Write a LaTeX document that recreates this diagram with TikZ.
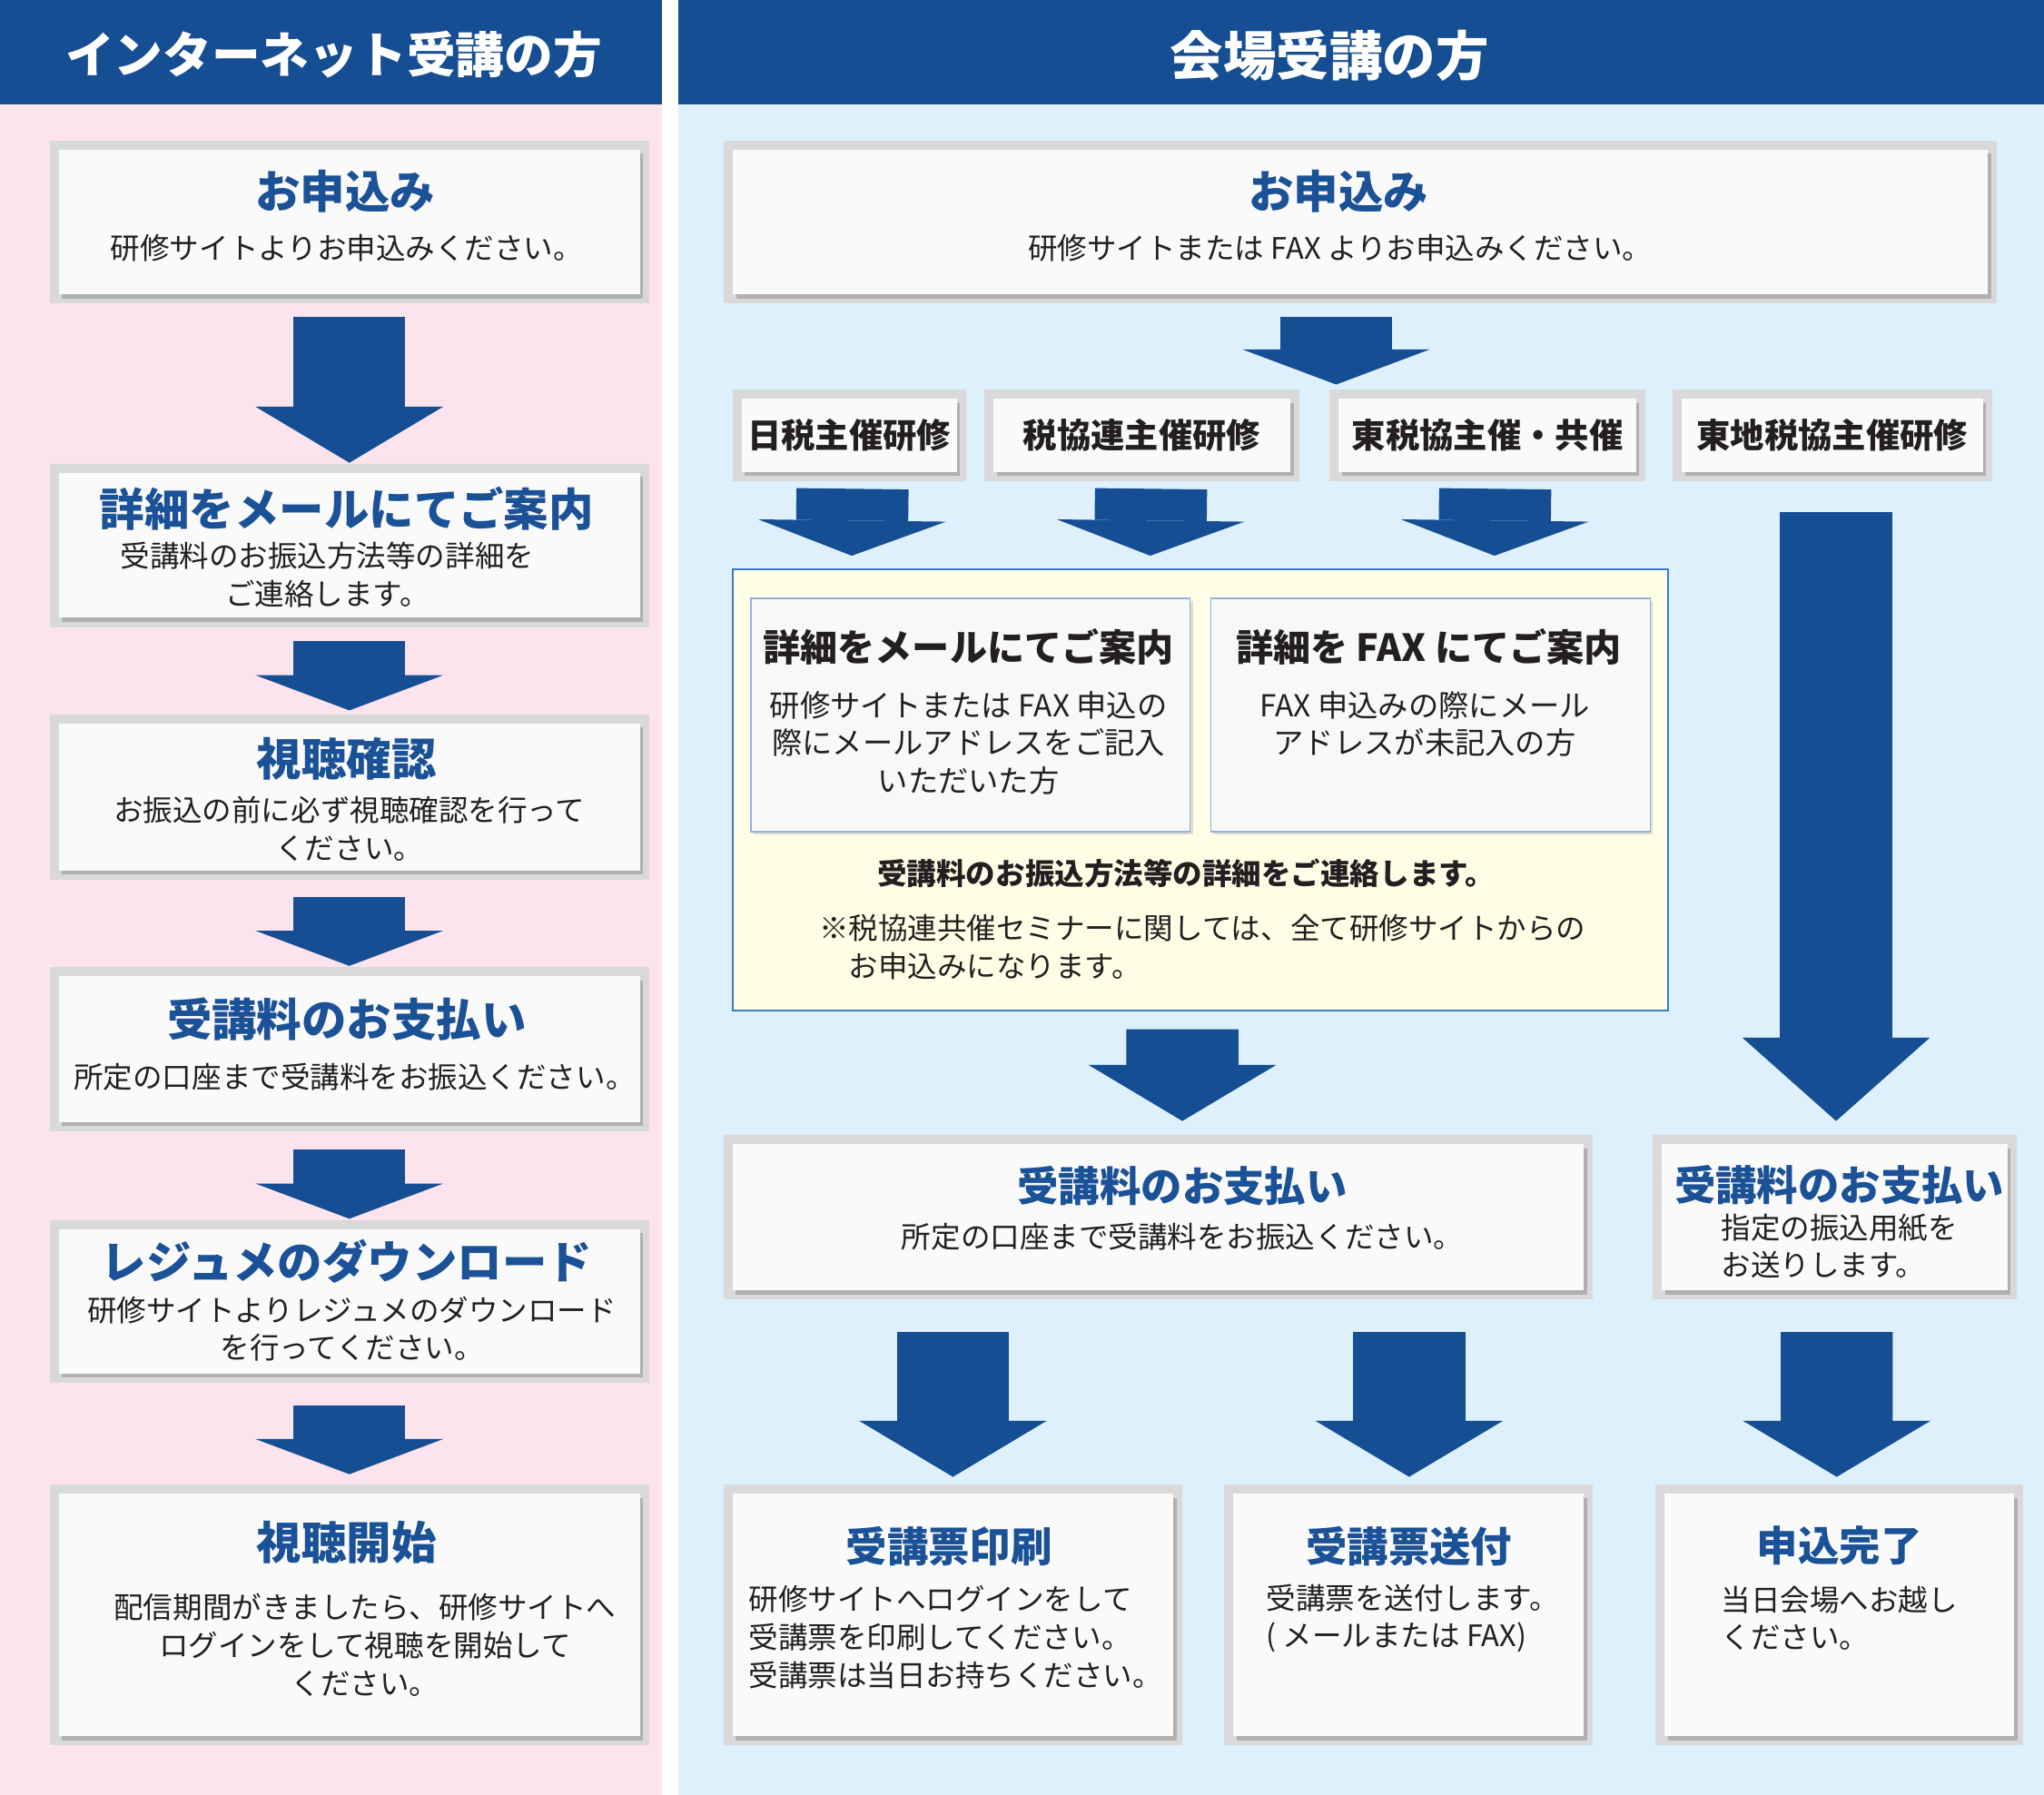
\documentclass[tikz,border=0pt]{standalone}
\usepackage{fontspec}
\setmainfont{Noto Sans CJK JP}
\usepackage{xcolor}
\usetikzlibrary{positioning, calc}
\usetikzlibrary{shadows, arrows.meta}
\definecolor{hdblue}{HTML}{164E93}
\definecolor{ttlblue}{HTML}{1B5197}
\definecolor{pinkbg}{HTML}{FBE4EE}
\definecolor{bluebg}{HTML}{DDF0FB}
\definecolor{framegray}{HTML}{D9D9D9}
\definecolor{cardwhite}{HTML}{FAFAFA}
\definecolor{notebg}{HTML}{FEFDE5}
\definecolor{noteline}{HTML}{3B7BC6}
\definecolor{innerline}{HTML}{8FB3DC}
\definecolor{innerfill}{HTML}{F8F8F8}
\definecolor{txtblack}{HTML}{231F20}
\tikzstyle{header} = [inner sep=0pt, text=white, font=\fontsize{21.3}{26}\selectfont\bfseries]
\tikzstyle{card} = [rectangle, inner sep=0pt, outer sep=0pt, preaction={draw=framegray, line width=0.28cm}, drop shadow={shadow xshift=0.05cm, shadow yshift=-0.06cm, opacity=0.35, fill=black!60}, fill=cardwhite]
\tikzstyle{tag} = [card, minimum height=1.12cm, text=txtblack, font=\fontsize{14.8}{18}\selectfont\bfseries]
\tikzstyle{title} = [inner sep=0pt, text=ttlblue, font=\fontsize{19.6}{24}\selectfont\bfseries]
\tikzstyle{titlesm} = [inner sep=0pt, text=ttlblue, font=\fontsize{18}{22}\selectfont\bfseries]
\tikzstyle{sub} = [inner sep=0pt, align=center, text=txtblack, font=\fontsize{12.9}{16.5}\selectfont]
\tikzstyle{subl} = [sub, align=left, anchor=west]
\tikzstyle{notebox} = [rectangle, draw=noteline, line width=0.8pt, fill=notebg]
\tikzstyle{inbox} = [rectangle, draw=innerline, line width=0.6pt, fill=innerfill, drop shadow={shadow xshift=0.04cm, shadow yshift=-0.04cm, opacity=0.25}]
\tikzstyle{intitle} = [inner sep=0pt, text=txtblack, font=\fontsize{16.3}{20}\selectfont\bfseries]
\tikzstyle{insub} = [inner sep=0pt, align=center, text=txtblack, font=\fontsize{13.2}{16.5}\selectfont]
\tikzstyle{notebold} = [inner sep=0pt, text=txtblack, font=\fontsize{12.9}{16}\selectfont\bfseries]
\tikzstyle{flow} = [color=hdblue, line width=1.72cm, line cap=butt, -{Triangle[width=2.88cm, length=0.86cm, line width=0pt]}]
\tikzstyle{flowshort} = [flow, -{Triangle[width=2.88cm, length=0.54cm, line width=0pt]}]
\tikzstyle{flowlong} = [flow, -{Triangle[width=2.88cm, length=1.28cm, line width=0pt]}]
\begin{document}
\begin{tikzpicture}[x=0.02cm, y=-0.02cm]
    \fill[white] (0,0) rectangle (1568,1377);
    \fill[pinkbg] (0,80) rectangle (508,1377);
    \fill[bluebg] (520,80) rectangle (1568,1377);
    \fill[hdblue] (0,0) rectangle (508,80);
    \fill[hdblue] (520,0) rectangle (1568,80);
    \node[header] (hnet) at (256,42) {インターネット受講の方};
    \node[header, font=\fontsize{23.2}{28}\selectfont\bfseries] (hsite) at (1020,43) {会場受講の方};

    % internet column
    \node[card, minimum width=8.92cm, minimum height=2.22cm] (lapply) at (268,170.5) {};
    \node[title] (lapplyT) at (265,147) {お申込み};
    \node[sub] (lapplyS) at (266,190) {研修サイトよりお申込みください。};
    \node[card, minimum width=8.92cm, minimum height=2.22cm] (lmail) at (268,418.5) {};
    \node[title] (lmailT) at (266,390) {詳細をメールにてご案内};
    \node[sub] (lmailS) at (251,441) {受講料のお振込方法等の詳細を\\ご連絡します。};
    \node[card, minimum width=8.92cm, minimum height=2.26cm] (lcheck) at (268,611.5) {};
    \node[title] (lcheckT) at (266,582) {視聴確認};
    \node[sub] (lcheckS) at (268,636) {お振込の前に必ず視聴確認を行って\\ください。};
    \node[card, minimum width=8.92cm, minimum height=2.24cm] (lpay) at (268,805) {};
    \node[title] (lpayT) at (266,782) {受講料のお支払い};
    \node[sub] (lpayS) at (272,826) {所定の口座まで受講料をお振込ください。};
    \node[card, minimum width=8.92cm, minimum height=2.22cm] (lres) at (268,998.5) {};
    \node[title] (lresT) at (266,968) {レジュメのダウンロード};
    \node[sub] (lresS) at (270,1019.5) {研修サイトよりレジュメのダウンロード\\を行ってください。};
    \node[card, minimum width=8.92cm, minimum height=3.72cm] (lstart) at (268,1239) {};
    \node[title] (lstartT) at (266,1183) {視聴開始};
    \node[sub] (lstartS) at (280,1262) {配信期間がきましたら、研修サイトへ\\ログインをして視聴を開始して\\ください。};
    \draw[flow] ($(lapply.south)+(0,17)$) -- ($(lmail.north)+(0,-8)$);
    \draw[flowshort] ($(lmail.south)+(0,18)$) -- ($(lcheck.north)+(0,-10)$);
    \draw[flowshort] ($(lcheck.south)+(0,20)$) -- ($(lpay.north)+(0,-8)$);
    \draw[flowshort] ($(lpay.south)+(0,21)$) -- ($(lres.north)+(0,-8)$);
    \draw[flowshort] ($(lres.south)+(0,24)$) -- ($(lstart.north)+(0,-15)$);

    % venue column
    \node[card, minimum width=19.26cm, minimum height=2.22cm] (rapply) at (1043.5,170.5) {};
    \node[title] (rapplyT) at (1027,147) {お申込み};
    \node[sub] (rapplyS) at (1028,190) {研修サイトまたは FAX よりお申込みください。};
    \coordinate (split) at (1025,295);
    \draw[flowshort] ($(rapply.south)+(-18.5,17)$) -- (split);
    \node[tag, minimum width=3.30cm] (tnichi) at (651.5,334) {日税主催研修};
    \node[tag, minimum width=4.56cm] (tzeikyo) at (876,334) {税協連主催研修};
    \node[tag, minimum width=4.56cm] (ttozei) at (1141,334) {東税協主催・共催};
    \node[tag, minimum width=4.62cm] (tchiho) at (1405.5,334) {東地税協主催研修};

    \node[notebox, minimum width=14.36cm, minimum height=6.76cm] (notebox) at (921,606) {};
    \node[inbox, minimum width=6.74cm, minimum height=3.58cm] (imail) at (744.5,548.5) {};
    \node[inbox, minimum width=6.74cm, minimum height=3.58cm] (ifax) at (1097.5,548.5) {};
    \node[intitle] (imailT) at (743,496) {詳細をメールにてご案内};
    \node[insub] (imailS) at (743,570) {研修サイトまたは FAX 申込の\\際にメールアドレスをご記入\\いただいた方};
    \node[intitle] (ifaxT) at (1096,496) {詳細を FAX にてご案内};
    \node[insub] (ifaxS) at (1093,555.5) {FAX 申込みの際にメール\\アドレスが未記入の方};
    \node[notebold] (notemain) at (910,670) {受講料のお振込方法等の詳細をご連絡します。};
    \node[sub, align=left, anchor=west] (notesub) at (628,726.5) {※税協連共催セミナーに関しては、全て研修サイトからの\\\hspace*{1em}お申込みになります。};
    \draw[flowshort] ($(tnichi.south)+(2.5,13)$) -- ($(notebox.north west)+(92,-10)$);
    \draw[flowshort] ($(tzeikyo.south)+(7,13)$) -- ($(notebox.north west)+(321,-10)$);
    \draw[flowshort] ($(ttozei.south)+(6,13)$) -- ($(notebox.north west)+(585,-10)$);

    \node[card, minimum width=13.06cm, minimum height=2.24cm] (rpay) at (888.5,934) {};
    \node[titlesm] (rpayT) at (907,910) {受講料のお支払い};
    \node[sub] (rpayS) at (907,949) {所定の口座まで受講料をお振込ください。};
    \node[card, minimum width=5.30cm, minimum height=2.24cm] (rform) at (1407.5,934) {};
    \node[titlesm] (rformT) at (1411,909) {受講料のお支払い};
    \node[subl] (rformS) at (1320,956) {指定の振込用紙を\\お送りします。};
    \draw[flow] ($(notebox.south)+(-14,14)$) -- ($(rpay.north)+(18.5,-18)$);
    \draw[flowlong] ($(tchiho.south)+(3,31)$) -- ($(rform.north)+(1,-18)$);

    \node[card, minimum width=6.76cm, minimum height=3.72cm] (bprint) at (731,1239) {};
    \node[titlesm] (bprintT) at (728,1186) {受講票印刷};
    \node[subl] (bprintS) at (574,1256) {研修サイトへログインをして\\受講票を印刷してください。\\受講票は当日お持ちください。};
    \node[card, minimum width=5.38cm, minimum height=3.72cm] (bsend) at (1080.5,1239) {};
    \node[titlesm] (bsendT) at (1081,1186) {受講票送付};
    \node[subl] (bsendS) at (971,1241.5) {受講票を送付します。\\( メールまたは FAX)};
    \node[card, minimum width=5.36cm, minimum height=3.72cm] (bdone) at (1411,1239) {};
    \node[titlesm] (bdoneT) at (1411,1186) {申込完了};
    \node[subl] (bdoneS) at (1320,1241.5) {当日会場へお越し\\ください。};
    \draw[flow] ($(rpay.south)+(-157.5,32)$) -- ($(bprint.north)+(0,-13)$);
    \draw[flow] ($(rpay.south)+(192.5,32)$) -- ($(bsend.north)+(0.5,-13)$);
    \draw[flow] ($(rform.south)+(1.5,32)$) -- ($(bdone.north)+(-2,-13)$);
\end{tikzpicture}
\end{document}
